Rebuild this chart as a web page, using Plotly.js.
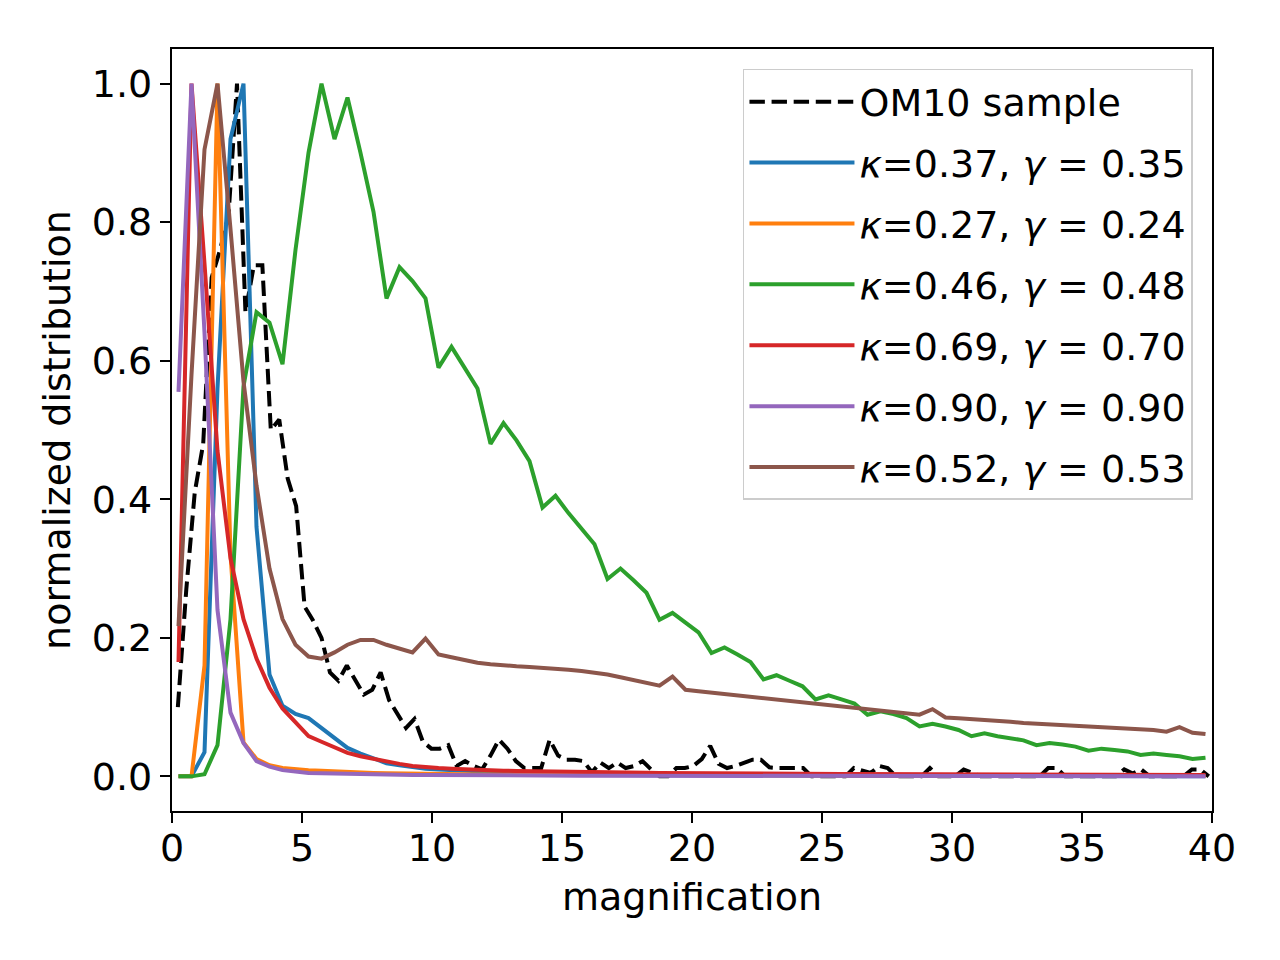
<!DOCTYPE html>
<html>
<head>
<meta charset="utf-8">
<script src="https://cdn.plot.ly/plotly-3.0.1.min.js"></script>
<style>html,body{margin:0;padding:0;background:#fff;}#chart{width:1280px;height:960px;}</style>
</head>
<body>
<div id="chart"></div>
<script>
// Bin centres of the model curves
const modelX = [0.25,0.75,1.25,1.75,2.25,2.75,3.25,3.75,4.25,4.75,
  5.25,5.75,6.25,6.75,7.25,7.75,8.25,8.75,9.25,9.75,
  10.25,10.75,11.25,11.75,12.25,12.75,13.25,13.75,14.25,14.75,
  15.25,15.75,16.25,16.75,17.25,17.75,18.25,18.75,19.25,19.75,
  20.25,20.75,21.25,21.75,22.25,22.75,23.25,23.75,24.25,24.75,
  25.25,25.75,26.25,26.75,27.25,27.75,28.25,28.75,29.25,29.75,
  30.25,30.75,31.25,31.75,32.25,32.75,33.25,33.75,34.25,34.75,
  35.25,35.75,36.25,36.75,37.25,37.75,38.25,38.75,39.25,39.75];

// Bin centres of the OM10 sample histogram
const om10X = [0.225,0.55,0.875,1.2,1.525,1.85,2.175,2.5,2.825,3.15,
  3.475,3.8,4.125,4.45,4.775,5.1,5.425,5.75,6.075,6.4,
  6.725,7.05,7.375,7.7,8.025,8.35,8.675,9.0,9.325,9.65,
  9.975,10.3,10.625,10.95,11.275,11.6,11.925,12.25,12.575,12.9,
  13.225,13.55,13.875,14.2,14.525,14.85,15.175,15.5,15.825,16.15,
  16.475,16.8,17.125,17.45,17.775,18.1,18.425,18.75,19.075,19.4,
  19.725,20.05,20.375,20.7,21.025,21.35,21.675,22.0,22.325,22.65,
  22.975,23.3,23.625,23.95,24.275,24.6,24.925,25.25,25.575,25.9,
  26.225,26.55,26.875,27.2,27.525,27.85,28.175,28.5,28.825,29.15,
  29.475,29.8,30.125,30.45,30.775,31.1,31.425,31.75,32.075,32.4,
  32.725,33.05,33.375,33.7,34.025,34.35,34.675,35.0,35.325,35.65,
  35.975,36.3,36.625,36.95,37.275,37.6,37.925,38.25,38.575,38.9,
  39.225,39.55,39.875];

const om10Y = [0.10,0.27,0.41,0.48,0.72,0.76,0.81,1.0,0.67,0.738,
  0.738,0.50,0.515,0.43,0.39,0.245,0.225,0.20,0.15,0.138,
  0.16,0.14,0.118,0.125,0.15,0.11,0.09,0.07,0.083,0.05,
  0.04,0.04,0.045,0.015,0.022,0.015,0.01,0.03,0.053,0.04,
  0.022,0.012,0.012,0.012,0.053,0.03,0.024,0.024,0.022,0.006,
  0.02,0.012,0.02,0.012,0.015,0.022,0.01,0,0,0.012,
  0.012,0.015,0.025,0.044,0.018,0.012,0.015,0.02,0.024,0.024,
  0.013,0.012,0.012,0.012,0.012,0,0,0,0,0,
  0.012,0.008,0.005,0.015,0.012,0,0,0,0,0.012,
  0,0,0,0.01,0.005,0,0,0,0,0,
  0,0,0,0.012,0.012,0,0,0,0,0,
  0,0,0.01,0.004,0.01,0,0,0,0,0,
  0.01,0.01,0];

const blueY = [0,0,0.035,0.56,0.92,1.0,0.36,0.147,0.102,0.09,
  0.084,0.07,0.055,0.041,0.033,0.026,0.019,0.016,0.013,0.011,
  0.01,0.009,0.008,0.007,0.006,0.005,0.0045,0.004,0.0035,0.003,
  0.003,0.0027,0.0025,0.0023,0.002,0.002,0.0018,0.0017,0.0016,0.0015,
  0.0014,0.0013,0.0012,0.0012,0.0011,0.001,0.001,0.001,0.0009,0.0009,
  0.0008,0.0008,0.0008,0.0007,0.0007,0.0007,0.0006,0.0006,0.0006,0.0005,
  0.0005,0.0005,0.0005,0.0004,0.0004,0.0004,0.0004,0.0004,0.0003,0.0003,
  0.0003,0.0003,0.0003,0.0003,0.0002,0.0002,0.0002,0.0002,0.0002,0.0002];

const orangeY = [0,0,0.16,1.0,0.32,0.049,0.025,0.016,0.012,0.01,
  0.009,0.008,0.007,0.006,0.0055,0.005,0.0045,0.004,0.0038,0.0035,
  0.0033,0.003,0.0029,0.0028,0.0027,0.0025,0.0024,0.0023,0.0022,0.0021,
  0.002,0.0019,0.0018,0.0018,0.0017,0.0016,0.0016,0.0015,0.0015,0.0014,
  0.0014,0.0013,0.0013,0.0012,0.0012,0.0012,0.0011,0.0011,0.0011,0.001,
  0.001,0.001,0.001,0.0009,0.0009,0.0009,0.0009,0.0008,0.0008,0.0008,
  0.0008,0.0008,0.0007,0.0007,0.0007,0.0007,0.0007,0.0006,0.0006,0.0006,
  0.0006,0.0006,0.0006,0.0005,0.0005,0.0005,0.0005,0.0005,0.0005,0.0005];

const greenY = [0,0,0.003,0.045,0.227,0.563,0.67,0.655,0.595,0.76,
  0.9,1.0,0.92,0.98,0.9,0.815,0.69,0.735,0.715,0.69,
  0.59,0.62,0.59,0.56,0.48,0.51,0.485,0.455,0.388,0.405,
  0.38,0.357,0.335,0.285,0.30,0.283,0.265,0.226,0.236,0.222,
  0.208,0.178,0.186,0.176,0.165,0.14,0.146,0.138,0.13,0.111,
  0.117,0.111,0.105,0.089,0.094,0.09,0.084,0.072,0.076,0.072,
  0.067,0.058,0.062,0.058,0.055,0.052,0.045,0.048,0.046,0.043,
  0.037,0.04,0.038,0.036,0.031,0.033,0.031,0.029,0.025,0.027];

const redY = [0.165,1.0,0.74,0.47,0.315,0.227,0.17,0.128,0.098,0.077,
  0.058,0.05,0.042,0.034,0.029,0.025,0.021,0.018,0.015,0.013,
  0.012,0.011,0.01,0.0093,0.0087,0.0082,0.0078,0.0074,0.007,0.0067,
  0.0064,0.0061,0.0059,0.0057,0.0055,0.0053,0.0051,0.0049,0.0047,0.0046,
  0.0045,0.0044,0.0043,0.0042,0.0041,0.004,0.0039,0.0038,0.0037,0.0036,
  0.0035,0.0034,0.0034,0.0033,0.0032,0.0031,0.0031,0.003,0.003,0.0029,
  0.0028,0.0028,0.0027,0.0027,0.0026,0.0026,0.0025,0.0025,0.0024,0.0024,
  0.0023,0.0023,0.0022,0.0022,0.0021,0.0021,0.002,0.002,0.0019,0.0019];

const purpleY = [0.555,1.0,0.64,0.24,0.092,0.048,0.022,0.014,0.009,0.007,
  0.005,0.0045,0.004,0.0035,0.003,0.0028,0.0025,0.0023,0.0021,0.002,
  0.0018,0.0017,0.0016,0.0015,0.0014,0.0013,0.0013,0.0012,0.0011,0.0011,
  0.001,0.001,0.0009,0.0009,0.0009,0.0008,0.0008,0.0008,0.0007,0.0007,
  0.0007,0.0007,0.0006,0.0006,0.0006,0.0006,0.0005,0.0005,0.0005,0.0005,
  0.0005,0.0005,0.0004,0.0004,0.0004,0.0004,0.0004,0.0004,0.0004,0.0003,
  0.0003,0.0003,0.0003,0.0003,0.0003,0.0003,0.0003,0.0003,0.0003,0.0002,
  0.0002,0.0002,0.0002,0.0002,0.0002,0.0002,0.0002,0.0002,0.0002,0.0002];

const brownY = [0.217,0.58,0.905,1.0,0.79,0.57,0.42,0.30,0.227,0.19,
  0.173,0.170,0.179,0.19,0.197,0.197,0.19,0.184,0.179,0.199,
  0.176,0.172,0.168,0.164,0.162,0.160,0.159,0.158,0.157,0.155,
  0.154,0.152,0.150,0.147,0.143,0.139,0.135,0.131,0.144,0.125,
  0.123,0.121,0.119,0.117,0.115,0.113,0.111,0.109,0.107,0.105,
  0.103,0.101,0.099,0.097,0.096,0.094,0.092,0.089,0.097,0.085,
  0.084,0.083,0.081,0.080,0.079,0.077,0.076,0.075,0.074,0.073,
  0.072,0.071,0.070,0.069,0.068,0.067,0.0645,0.071,0.063,0.061];

const seriesNames = ['OM10 sample',
  '<i>κ</i>=0.37, <i>γ</i> = 0.35',
  '<i>κ</i>=0.27, <i>γ</i> = 0.24',
  '<i>κ</i>=0.46, <i>γ</i> = 0.48',
  '<i>κ</i>=0.69, <i>γ</i> = 0.70',
  '<i>κ</i>=0.90, <i>γ</i> = 0.90',
  '<i>κ</i>=0.52, <i>γ</i> = 0.53'];
const seriesColors = ['#000000','#1f77b4','#ff7f0e','#2ca02c','#d62728','#9467bd','#8c564b'];
const modelSeries = [blueY, orangeY, greenY, redY, purpleY, brownY];

const yTickVals = [0,0.2,0.4,0.6,0.8,1.0];
const yTickText = ['0.0','0.2','0.4','0.6','0.8','1.0'];
const xTickVals = [0,5,10,15,20,25,30,35,40];
const xTickText = ['0','5','10','15','20','25','30','35','40'];

const FONT = 'DejaVu Sans, sans-serif';

const traces = [{
  x: om10X, y: om10Y, type: 'scatter', mode: 'lines', name: seriesNames[0],
  legendgroup: 'g0',
  line: {color: seriesColors[0], width: 4, dash: '15.4px,6.7px'}
}];
modelSeries.forEach(function (ys, i) {
  traces.push({
    x: modelX, y: ys, type: 'scatter', mode: 'lines', name: seriesNames[i + 1],
    legendgroup: 'g' + (i + 1),
    line: {color: seriesColors[i + 1], width: 4}
  });
});

const layout = {
  width: 1280, height: 960,
  margin: {l: 172, r: 68, t: 49, b: 149, pad: 0},
  paper_bgcolor: '#ffffff', plot_bgcolor: '#ffffff',
  font: {family: FONT, size: 38, color: '#000000'},
  showlegend: true,
  legend: {
    x: 0.9817, xanchor: 'right', y: 0.9738, yanchor: 'top',
    bgcolor: 'rgba(255,255,255,0.8)', bordercolor: '#cccccc', borderwidth: 1.5,
    font: {family: FONT, size: 38, color: '#000000'},
    tracegroupgap: 8.5, traceorder: 'grouped', itemwidth: 105
  },
  xaxis: {
    range: [0, 40], tickmode: 'array', tickvals: xTickVals, ticktext: xTickText,
    ticks: 'outside', ticklen: 10, tickwidth: 2.2, tickcolor: '#000',
    showline: true, linecolor: '#000', linewidth: 2.2, mirror: true,
    showgrid: false, zeroline: false, ticklabelstandoff: -8,
    tickfont: {family: FONT, size: 38, color: '#000'},
    title: {text: 'magnification', font: {family: FONT, size: 38, color: '#000'}, standoff: 15}
  },
  yaxis: {
    range: [-0.05, 1.05], tickmode: 'array', tickvals: yTickVals, ticktext: yTickText,
    ticks: 'outside', ticklen: 10, tickwidth: 2.2, tickcolor: '#000',
    showline: true, linecolor: '#000', linewidth: 2.2, mirror: true,
    showgrid: false, zeroline: false,
    tickfont: {family: FONT, size: 38, color: '#000'},
    title: {text: 'normalized distribution', font: {family: FONT, size: 38, color: '#000'}, standoff: 10}
  }
};

Plotly.newPlot('chart', traces, layout, {displayModeBar: false, staticPlot: true});
</script>
</body>
</html>
